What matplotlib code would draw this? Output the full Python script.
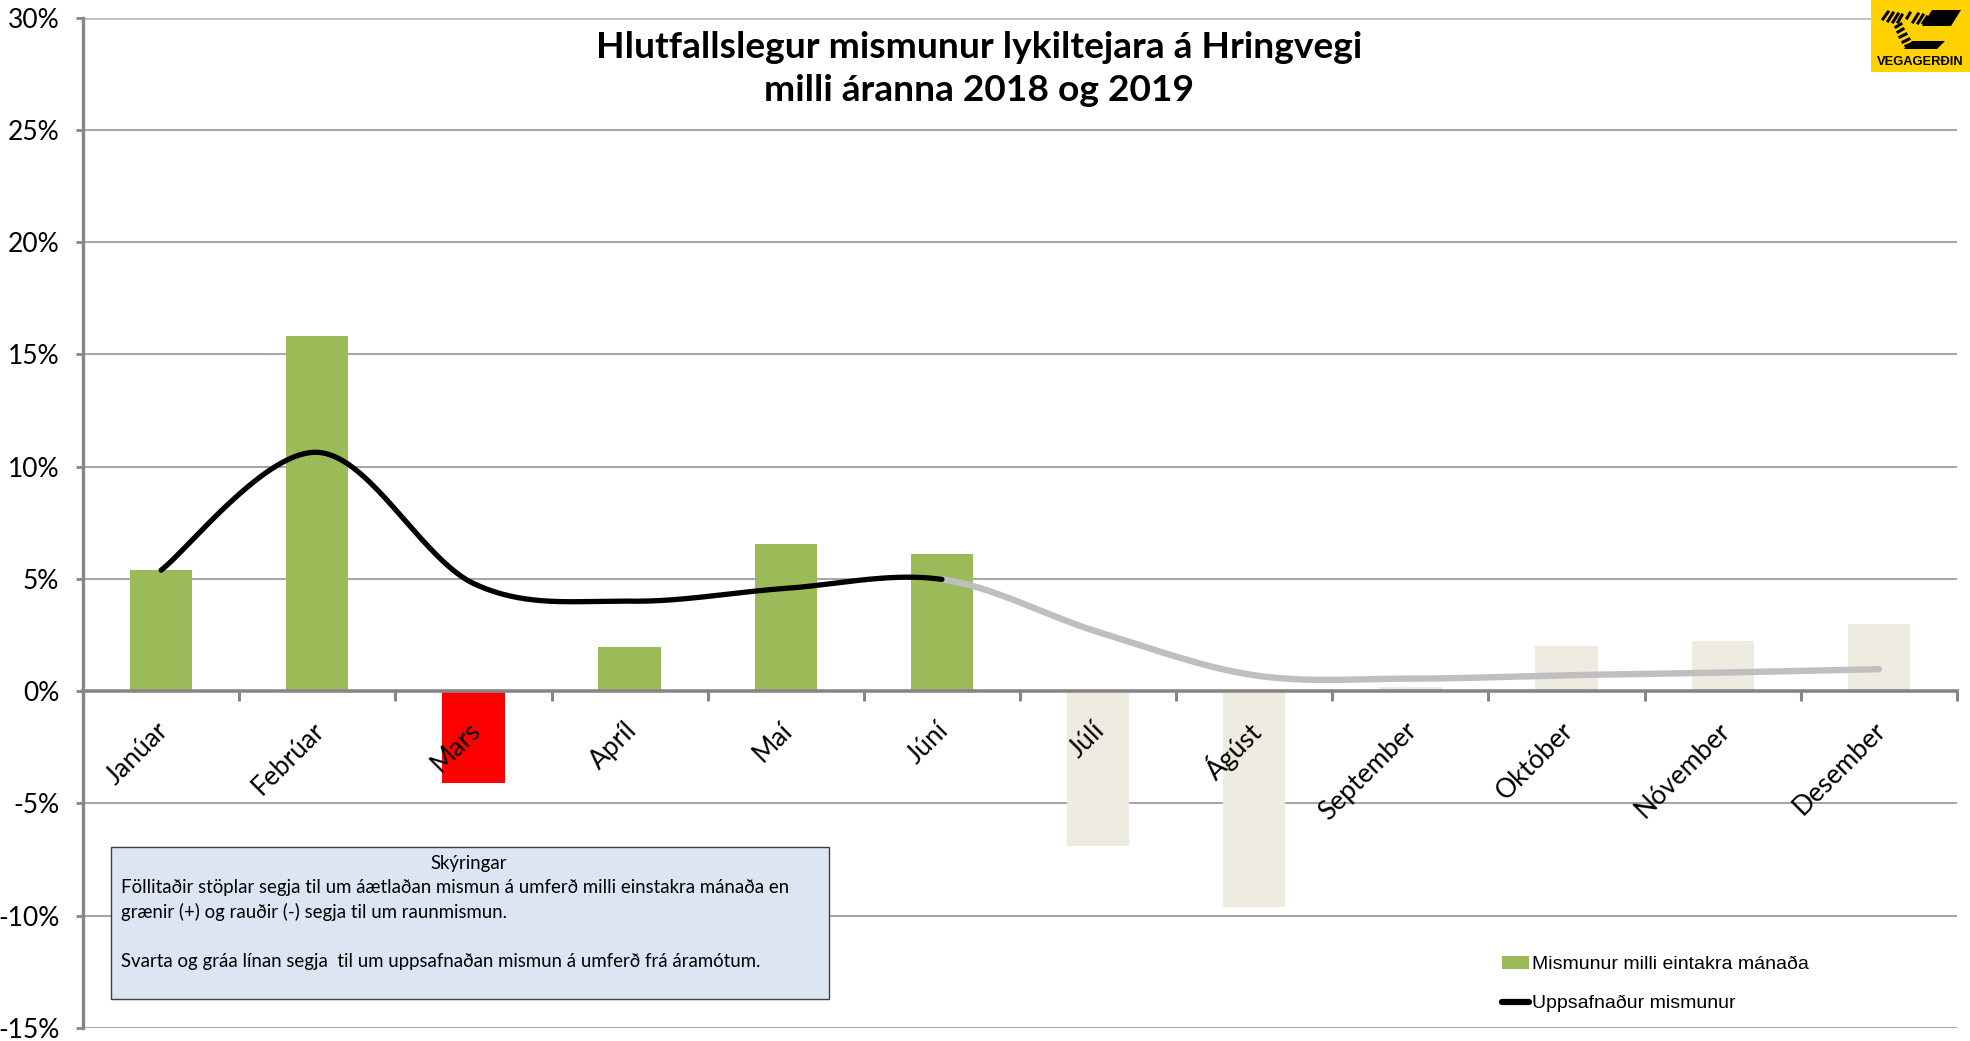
import numpy as np
import matplotlib
matplotlib.use("Agg")
import matplotlib.pyplot as plt
from matplotlib.patches import Rectangle, Polygon, Patch
from matplotlib.lines import Line2D
from matplotlib.transforms import ScaledTranslation
from matplotlib.ticker import FuncFormatter

plt.rcParams['font.family'] = ['Lato', 'DejaVu Sans']

# ---------------- data ----------------
months = ["Janúar", "Febrúar", "Mars", "Apríl", "Maí", "Júní", "Júlí",
          "Ágúst", "September", "Október", "Nóvember", "Desember"]
monthly_diff = [5.39, 15.83, -4.09, 1.95, 6.55, 6.10, -6.89, -9.63, 0.18, 2.00, 2.23, 2.99]
cumulative = [5.39, 10.64, 4.80, 4.01, 4.58, 4.98, 2.64, 0.71, 0.56, 0.71, 0.83, 0.98]
n_actual = 6  # months with measured data (Jan-Jun)

title = "Hlutfallslegur mismunur lykiltejara á Hringvegi\nmilli áranna 2018 og 2019"
legend_labels = ["Mismunur milli eintakra mánaða", "Uppsafnaður mismunur"]
note_title = "Skýringar"
note_lines = ["Föllitaðir stöplar segja til um áætlaðan mismun á umferð milli einstakra mánaða en",
              "grænir (+) og rauðir (-) segja til um raunmismun.",
              "",
              "Svarta og gráa línan segja  til um uppsafnaðan mismun á umferð frá áramótum."]
logo_text = "VEGAGERÐIN"

GREEN = "#9BBB59"
RED = "#FF0000"
BEIGE = "#EEECE1"
AXGRAY = "#868686"
NARROW = ["Liberation Sans Narrow", "Liberation Sans", "DejaVu Sans"]

# ---------------- figure ----------------
W, H = 1970, 1041
fig = plt.figure(figsize=(W / 100, H / 100), dpi=100)
fig.patch.set_facecolor("white")

def fx(px):
    return px / W

def fy(py):
    return 1 - py / H

left_px, right_px, top_px, bot_px = 83, 1957, 17.6, 1028
ax = fig.add_axes([fx(left_px), fy(bot_px), fx(right_px - left_px), (bot_px - top_px) / H])
ax.set_xlim(-0.5, 11.5)
ax.set_ylim(-15, 30)
ax.set_axisbelow(True)

x = np.arange(len(months))
colors = [(GREEN if v >= 0 else RED) if i < n_actual else BEIGE
          for i, v in enumerate(monthly_diff)]
ax.bar(x, monthly_diff, width=0.4, color=colors, zorder=2)

# Excel-style smoothed line (Bezier through the points)
def smooth(xs, ys, n=40):
    pts = np.column_stack([xs, ys]).astype(float)
    segs = []
    for i in range(len(pts) - 1):
        p0 = pts[i - 1] if i > 0 else pts[i]
        p1, p2 = pts[i], pts[i + 1]
        p3 = pts[i + 2] if i + 2 < len(pts) else pts[i + 1]
        c1 = p1 + (p2 - p0) / 6
        c2 = p2 - (p3 - p1) / 6
        t = np.linspace(0, 1, n)[:, None]
        b = ((1 - t) ** 3) * p1 + 3 * ((1 - t) ** 2) * t * c1 + 3 * (1 - t) * t ** 2 * c2 + t ** 3 * p2
        segs.append(b)
    return segs

segs = smooth(x, cumulative)
black = np.vstack(segs[:n_actual - 1])
grey = np.vstack(segs[n_actual - 1:])
ax.plot(grey[:, 0], grey[:, 1], color="#BFBFBF", lw=4.6, solid_capstyle="round", zorder=3)
ax.plot(black[:, 0], black[:, 1], color="black", lw=3.8, solid_capstyle="round", zorder=4)

# axes styling
for s in ["top", "right"]:
    ax.spines[s].set_visible(False)
ax.spines["left"].set_color(AXGRAY)
ax.spines["left"].set_linewidth(2.4)
ax.spines["bottom"].set_position(("data", 0))
ax.spines["bottom"].set_color(AXGRAY)
ax.spines["bottom"].set_linewidth(2.6)
ax.spines["bottom"].set_zorder(5)

ax.set_yticks(range(-15, 31, 5))
ax.yaxis.set_major_formatter(FuncFormatter(lambda v, p: f"{int(v)}%"))
ax.tick_params(axis="y", direction="out", length=5, width=2, color=AXGRAY,
               labelsize=19, pad=12, labelcolor="black")
ax.yaxis.grid(True, color="#8C8C8C", lw=1.1)
gl = ax.get_ygridlines()
gl[-1].set_color("#C0C0C0")
gl[-1].set_linewidth(2.0)

ax.set_xticks(x)
ax.set_xticks(np.arange(-0.5, 12, 1), minor=True)
ax.tick_params(axis="x", which="major", length=0, pad=25.5, labelsize=19)
ax.tick_params(axis="x", which="minor", direction="out", length=7, width=2.2, color=AXGRAY)
ax.set_xticklabels(months)
ax.xaxis.set_zorder(6)  # month labels drawn over the bars
offset = ScaledTranslation(3 / 100, 0, fig.dpi_scale_trans)
for lab in ax.get_xticklabels():
    lab.set_rotation(45)
    lab.set_ha("right")
    lab.set_va("center")
    lab.set_rotation_mode("anchor")
    lab.set_transform(lab.get_transform() + offset)

# ---------------- title ----------------
fig.text(fx(979), fy(69), title, ha="center", va="center", fontsize=26.7, fontweight="bold",
         linespacing=1.35, zorder=10,
         bbox=dict(facecolor="white", edgecolor="none", pad=6))

# ---------------- note box ----------------
fig.add_artist(Rectangle((fx(110.6), fy(999)), fx(829 - 110.6), (999 - 847) / H,
                         transform=fig.transFigure, facecolor="#DCE6F2",
                         edgecolor="#404040", lw=1.0, zorder=8))
fig.text(fx(469), fy(864), note_title, ha="center", va="center", fontsize=13.4, zorder=9)
ys_note = [888, 912, 937, 962]
for txt, yy in zip(note_lines, ys_note):
    if txt:
        fig.text(fx(120.6), fy(yy), txt, ha="left", va="center", fontsize=13.4, zorder=9)

# ---------------- legend ----------------
handles = [Patch(facecolor=GREEN, edgecolor="none"),
           Line2D([], [], color="black", lw=4.5, solid_capstyle="round")]
fig.legend(handles, legend_labels, loc="center left",
           bbox_to_anchor=(fx(1492), fy(984)), frameon=False,
           prop=dict(family=NARROW, size=14),
           handlelength=1.4, handletextpad=0.15, labelspacing=1.1, borderpad=0)

# ---------------- logo ----------------
fig.add_artist(Rectangle((fx(1871), fy(72)), fx(99), 72 / H, transform=fig.transFigure,
                         facecolor="#FFD200", edgecolor="none", zorder=11))
logo_polys = [
    [(1932, 10), (1961, 10), (1951, 26), (1922, 26)],
    [(1912, 41), (1945, 41), (1937, 49), (1904, 49)],
]
for poly in logo_polys:
    fig.add_artist(Polygon([(fx(a), fy(b)) for a, b in poly], closed=True,
                           transform=fig.transFigure, facecolor="black",
                           edgecolor="none", zorder=12))
strokes = [((1883, 19), (1888, 12)), ((1888, 21), (1893, 13)), ((1893, 22), (1898, 14)),
           ((1898, 22), (1902, 15)), ((1907, 18), (1910, 13)), ((1913, 22), (1918, 14)),
           ((1918, 23), (1923, 15)), ((1923, 23), (1927, 17)),
           ((1896, 27), (1901, 24)), ((1898, 32), (1903, 29)), ((1900, 37), (1906, 34)),
           ((1903, 42), (1909, 39)), ((1906, 46), (1911, 44))]
for (a, b), (c, d) in strokes:
    fig.add_artist(Line2D([fx(a), fx(c)], [fy(b), fy(d)], transform=fig.transFigure,
                          color="black", lw=2.2, zorder=12))
fig.text(fx(1920), fy(62), logo_text, ha="center", va="center", fontsize=9.3,
         fontweight="bold", family=["Liberation Sans", "DejaVu Sans"], zorder=13)

fig.savefig("out.png", dpi=100, facecolor="white")
